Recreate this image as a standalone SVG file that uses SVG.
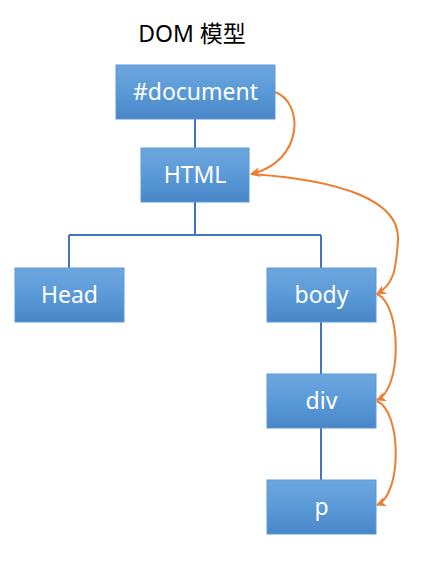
<svg xmlns="http://www.w3.org/2000/svg" width="422" height="570" viewBox="0 0 422 570">
<style>
.box{fill:url(#g);stroke:#5B9BD5;stroke-width:1}
.lbl{font-family:"Noto Sans","Open Sans","DejaVu Sans",sans-serif;font-size:23px;fill:#fff;text-anchor:middle}
.tree{fill:none;stroke:#4472C4;stroke-width:2}
.arc{fill:none;stroke:#ED7D31;stroke-width:2;marker-end:url(#ah)}
.title{font-family:"Noto Sans","Noto Sans CJK SC",sans-serif;font-size:23px;fill:#000;text-anchor:middle}
</style>
<defs>
<linearGradient id="g" x1="0" y1="0" x2="0" y2="1">
<stop offset="0" stop-color="#6EA6DE"/>
<stop offset="0.5" stop-color="#5A9AD8"/>
<stop offset="1" stop-color="#4A86C6"/>
</linearGradient>
<marker id="ah" markerWidth="10" markerHeight="10" refX="9" refY="5" orient="auto" markerUnits="userSpaceOnUse">
<path d="M0,0 L10,5 L0,10 L3,5 Z" fill="#ED7D31"/>
</marker>
</defs>
<rect width="422" height="570" fill="#fff"/>
<text class="title" x="192" y="42">DOM 模型</text>
<g id="connectors">
<path class="tree" d="M195,119 V148"/>
<path class="tree" d="M195,202 V235 M69,235 H321 M69,235 V268 M321,235 V268"/>
<path class="tree" d="M321,322 V374 M321,428 V480"/>
<path class="arc" d="M275,92 C304,102 304,162 251,174"/>
<path class="arc" d="M251,174 C340,180 400,200 398,240 C396,270 394,284 377,294"/>
<path class="arc" d="M377,294 C402,305 402,390 377,400"/>
<path class="arc" d="M377,401 C402,412 402,495 377,505"/>
</g>
<g id="document"><rect class="box" x="116" y="65" width="159" height="54"/><text class="lbl" x="195.5" y="100">#document</text></g>
<g id="html"><rect class="box" x="141" y="148" width="108" height="54"/><text class="lbl" x="195" y="183">HTML</text></g>
<g id="head"><rect class="box" x="15" y="268" width="109" height="54"/><text class="lbl" x="69.5" y="303">Head</text></g>
<g id="body"><rect class="box" x="267" y="268" width="109" height="54"/><text class="lbl" x="321.5" y="303">body</text></g>
<g id="div"><rect class="box" x="267" y="374" width="109" height="54"/><text class="lbl" x="321.5" y="409">div</text></g>
<g id="p"><rect class="box" x="267" y="480" width="109" height="54"/><text class="lbl" x="321.5" y="515">p</text></g>
</svg>
